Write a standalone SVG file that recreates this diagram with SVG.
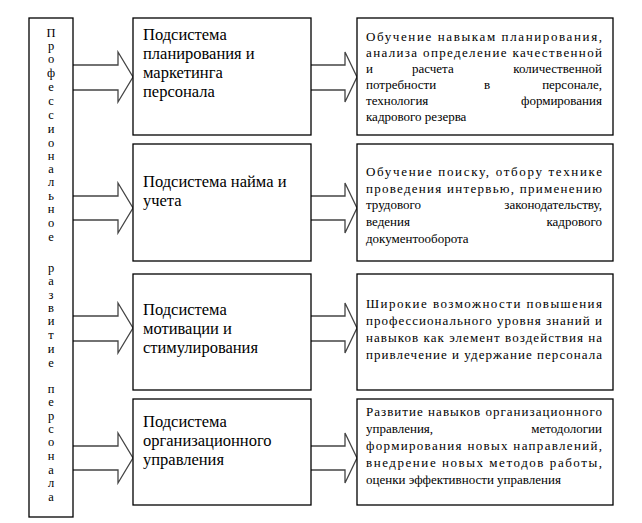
<svg xmlns="http://www.w3.org/2000/svg" width="642" height="523" viewBox="0 0 642 523">
<style>
.b{fill:#fff;stroke:#000;stroke-width:1.3}
.a{fill:#fff;stroke:#444;stroke-width:1.3}
text{font-family:"Liberation Serif","Times New Roman","DejaVu Serif",serif;fill:#000}
.m{font-size:16.5px}
.r{font-size:13px}
.v{font-size:12.5px;text-anchor:middle}
.e{text-anchor:end}
</style>
<rect width="642" height="523" fill="#fff"/>
<g id="connectors">
<path class="a" d="M73,65H118V52L133,77L118,102V90H73"/>
<path class="a" d="M73,196H118V183L133,208L118,233V220H73"/>
<path class="a" d="M73,316H118V303L133,328L118,353V341H73"/>
<path class="a" d="M73,446H118V433L133,458L118,483V470H73"/>
<path class="a" d="M311,65H345V52L357,77L345,102V90H311"/>
<path class="a" d="M311,196H345V183L357,208L345,233V220H311"/>
<path class="a" d="M311,316H345V303L357,328L345,353V341H311"/>
<path class="a" d="M311,446H345V433L357,458L345,483V470H311"/>
</g>
<g id="left">
<rect class="b" x="29" y="18" width="44" height="499"/>
<g>
<text class="v" x="51" y="37">П</text><text class="v" x="51" y="50">р</text><text class="v" x="51" y="63">о</text><text class="v" x="51" y="77">ф</text><text class="v" x="51" y="91">е</text><text class="v" x="51" y="105">с</text><text class="v" x="51" y="119">с</text><text class="v" x="51" y="133">и</text><text class="v" x="51" y="147">о</text><text class="v" x="51" y="160">н</text><text class="v" x="51" y="173">а</text><text class="v" x="51" y="186">л</text><text class="v" x="51" y="200">ь</text><text class="v" x="51" y="213">н</text><text class="v" x="51" y="227">о</text><text class="v" x="51" y="241">е</text>
<text class="v" x="51" y="272">р</text><text class="v" x="51" y="285">а</text><text class="v" x="51" y="299">з</text><text class="v" x="51" y="312">в</text><text class="v" x="51" y="325">и</text><text class="v" x="51" y="339">т</text><text class="v" x="51" y="353">и</text><text class="v" x="51" y="367">е</text>
<text class="v" x="51" y="393">п</text><text class="v" x="51" y="406">е</text><text class="v" x="51" y="420">р</text><text class="v" x="51" y="433">с</text><text class="v" x="51" y="446">о</text><text class="v" x="51" y="460">н</text><text class="v" x="51" y="474">а</text><text class="v" x="51" y="487">л</text><text class="v" x="51" y="501">а</text>
</g>
</g>
<g id="m1"><rect class="b" x="133" y="18" width="178" height="117"/>
<text class="m" x="143" y="40">Подсистема</text><text class="m" x="143" y="59">планирования и</text><text class="m" x="143" y="78">маркетинга</text><text class="m" x="143" y="97">персонала</text></g>
<g id="m2"><rect class="b" x="133" y="144" width="178" height="117"/>
<text class="m" x="143" y="187">Подсистема найма и</text><text class="m" x="143" y="206">учета</text></g>
<g id="m3"><rect class="b" x="133" y="274" width="178" height="116"/>
<text class="m" x="143" y="315">Подсистема</text><text class="m" x="143" y="334">мотивации и</text><text class="m" x="143" y="353">стимулирования</text></g>
<g id="m4"><rect class="b" x="133" y="399" width="178" height="106"/>
<text class="m" x="143" y="427">Подсистема</text><text class="m" x="143" y="446">организационного</text><text class="m" x="143" y="465">управления</text></g>
<g id="r1"><rect class="b" x="357" y="18" width="256" height="117"/>
<text class="r" x="366" y="41" textLength="236" lengthAdjust="spacing">Обучение  навыкам  планирования,</text>
<text class="r" x="366" y="57" textLength="236" lengthAdjust="spacing">анализа определение качественной</text>
<text class="r" x="366" y="73">и</text><text class="r" x="412" y="73">расчета</text><text class="r e" x="602" y="73">количественной</text>
<text class="r" x="366" y="89">потребности</text><text class="r" x="484" y="89">в</text><text class="r e" x="602" y="89">персонале,</text>
<text class="r" x="366" y="105">технология</text><text class="r e" x="602" y="105">формирования</text>
<text class="r" x="366" y="121">кадрового резерва</text></g>
<g id="r2"><rect class="b" x="357" y="144" width="256" height="117"/>
<text class="r" x="366" y="176" textLength="236" lengthAdjust="spacing">Обучение поиску, отбору технике</text>
<text class="r" x="366" y="193" textLength="236" lengthAdjust="spacing">проведения интервью, применению</text>
<text class="r" x="366" y="209">трудового</text><text class="r e" x="602" y="209">законодательству,</text>
<text class="r" x="366" y="226">ведения</text><text class="r e" x="602" y="226">кадрового</text>
<text class="r" x="366" y="243">документооборота</text></g>
<g id="r3"><rect class="b" x="357" y="274" width="256" height="116"/>
<text class="r" x="366" y="308" textLength="236" lengthAdjust="spacing">Широкие возможности повышения</text>
<text class="r" x="366" y="325" textLength="236" lengthAdjust="spacing">профессионального уровня знаний и</text>
<text class="r" x="366" y="342" textLength="236" lengthAdjust="spacing">навыков как элемент воздействия на</text>
<text class="r" x="366" y="359" textLength="236" lengthAdjust="spacing">привлечение и удержание персонала</text></g>
<g id="r4"><rect class="b" x="357" y="399" width="256" height="106"/>
<text class="r" x="366" y="416" textLength="236" lengthAdjust="spacing">Развитие навыков организационного</text>
<text class="r" x="366" y="433">управления,</text><text class="r e" x="602" y="433">методологии</text>
<text class="r" x="366" y="450" textLength="236" lengthAdjust="spacing">формирования новых направлений,</text>
<text class="r" x="366" y="467" textLength="236" lengthAdjust="spacing">внедрение новых методов работы,</text>
<text class="r" x="366" y="484">оценки эффективности управления</text></g>
</svg>
